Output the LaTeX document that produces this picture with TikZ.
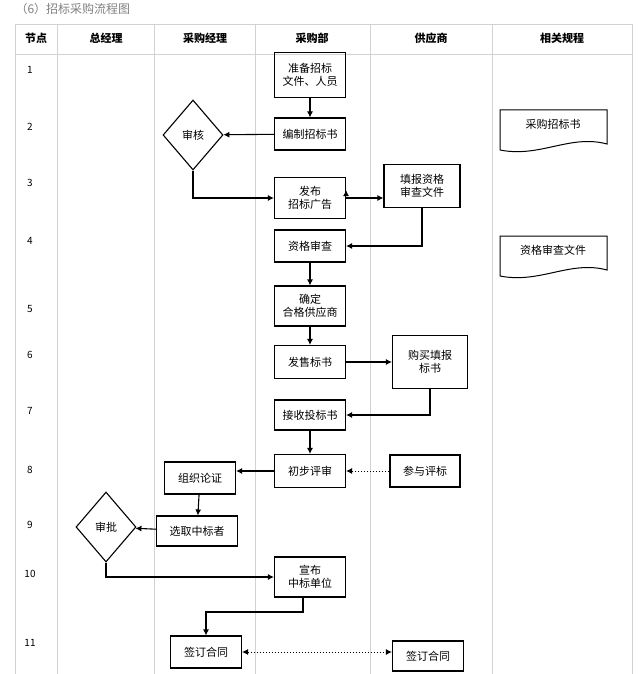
\documentclass[tikz,border=0pt]{standalone}
\usepackage{fontspec}
\setmainfont{Noto Sans CJK SC}
\usetikzlibrary{shapes.geometric,arrows.meta}
\begin{document}
\begin{tikzpicture}[x=1pt,y=-1pt,
  box/.style={draw,line width=1.1pt,minimum width=71pt,align=center,font=\fontsize{11}{13}\selectfont,inner sep=1pt},
  dia/.style={draw,diamond,line width=1.1pt,minimum width=60pt,minimum height=70pt,inner sep=0pt,font=\fontsize{11}{13}\selectfont},
  doc/.style={font=\fontsize{11}{13}\selectfont},
  arr/.style={line width=1.1pt,-{Latex[length=6pt,width=6pt]}},
  dot/.style={line width=1pt,dotted},
  grid/.style={gray!35,line width=0.5pt},
  lab/.style={font=\fontsize{10}{12}\selectfont}]
\useasboundingbox (0,0) rectangle (640,674);
\node[anchor=west,gray,font=\fontsize{12}{14}\selectfont] (title) at (12,9) {（6）招标采购流程图};
\foreach \x in {15,57,154,255,370,492,632} \draw[grid] (\x,24) -- (\x,674);
\draw[grid] (15,24) -- (632,24);
\draw[grid] (15,54) -- (632,54);
\foreach \x/\t in {36/节点,106/总经理,205/采购经理,312/采购部,431/供应商,562/相关规程/表单}
  \node[font=\bfseries\fontsize{11}{13}\selectfont] at (\x,38) {\t};
\foreach \y/\t in {70/1,127/2,183/3,241/4,309/5,355/6,411/7,470/8,525/9,574/10,643/11}
  \node[lab] at (30,\y) {\t};
% boxes
\node[box,minimum height=45pt] (b1) at (310,75) {准备招标\\文件、人员};
\node[box,minimum height=32pt] (b2) at (310,134) {编制招标书};
\node[dia] (d1) at (193,135) {审核};
\node[box,minimum height=41pt] (b3) at (310,198) {发布\\招标广告};
\node[box,minimum width=76pt,minimum height=43pt] (s3) at (422,186) {填报资格\\审查文件};
\node[box,minimum height=32pt] (b4) at (310,246) {资格审查};
\node[box,minimum height=40pt] (b5) at (310,306) {确定\\合格供应商};
\node[box,minimum height=33pt] (b6) at (310,362) {发售标书};
\node[box,minimum width=75pt,minimum height=53pt] (s6) at (430,362) {购买填报\\标书};
\node[box,minimum height=30pt] (b7) at (310,415) {接收投标书};
\node[box,minimum height=33pt] (b8) at (310,471) {初步评审};
\node[box,minimum height=32pt] (m8) at (200,478) {组织论证};
\node[box,minimum width=70pt,minimum height=32pt] (s8) at (425,471) {参与评标};
\node[dia] (d9) at (106,527) {审批};
\node[box,minimum width=81pt,minimum height=30pt] (m9) at (197,531) {选取中标者};
\node[box,minimum height=40pt] (b10) at (310,577) {宣布\\中标单位};
\node[box,minimum height=32pt] (m11) at (206,652) {签订合同};
\node[box,minimum height=30pt] (s11) at (428,656) {签订合同};
% documents
\draw[line width=1pt] (500,110) -- (607,110) -- (607,144) .. controls (570,134) and (540,158) .. (500,150) -- cycle;
\node[doc] (doc1) at (553,124) {采购招标书};
\draw[line width=1pt] (500,236) -- (607,236) -- (607,270) .. controls (570,260) and (540,284) .. (500,276) -- cycle;
\node[doc] (doc2) at (553,250) {资格审查文件};
% arrows
\draw[arr] (b1) -- (b2);
\draw[arr] (b2) -- (d1);
\draw[arr] (d1.south) |- (b3.west);
\draw[arr] (b3.east|-s3) ++(0,4) coordinate (c3) ; 
\draw[arr] (b3.east) -- (s3.west|-b3.east);
\draw[arr] (s3.south) |- (b4.east);
\draw[arr] (b4) -- (b5);
\draw[arr] (b5) -- (b6);
\draw[arr] (b6) -- (s6);
\draw[arr] (s6.south) |- (b7.east);
\draw[arr] (b7) -- (b8);
\draw[arr] (b8.west) -- (m8.east|-b8.west);
\draw[arr,dot] (s8) -- (b8);
\draw[arr] (m8) -- (m9);
\draw[arr] (m9) -- (d9);
\draw[arr] (d9.south) |- (b10.west);
\coordinate (k1) at (303,612);
\draw[arr] (b10.south-|k1) -- (k1) -| (m11.north);
\draw[dot,{Latex[length=6pt,width=6pt]}-{Latex[length=6pt,width=6pt]}] (m11.east) -- (s11.west|-m11.east);
\end{tikzpicture}
\end{document}
